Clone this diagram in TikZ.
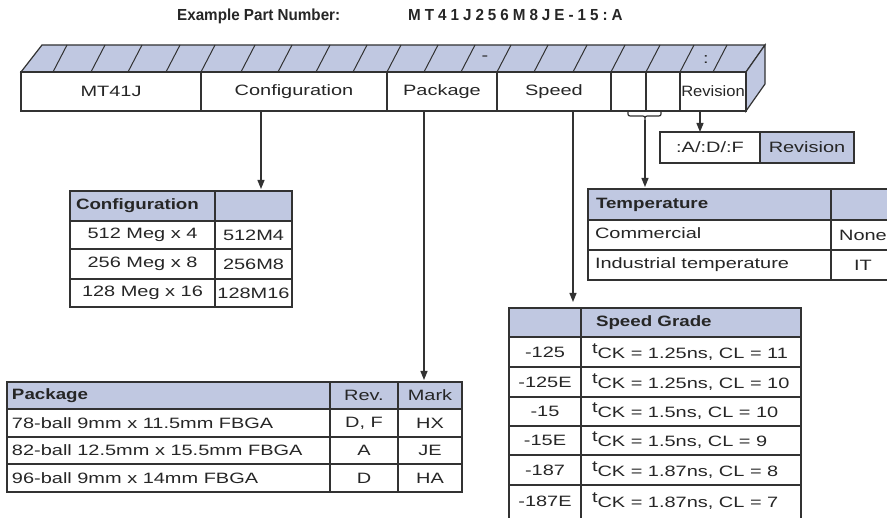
\documentclass[tikz,border=0pt]{standalone}
\usepackage{fontspec}
\setmainfont{Liberation Sans}[FakeStretch=1.33]
\newfontfamily\hb{Liberation Sans}[FakeStretch=1.25]
\newfontfamily\titlefont{Liberation Sans}[FakeStretch=0.95]
\usetikzlibrary{arrows.meta}
\definecolor{hdr}{RGB}{192,200,225}
\definecolor{ln}{RGB}{50,50,50}
\newcommand\fsz{\fontsize{15}{18}\selectfont}
\newcommand\Kp{\kern4pt}
\newcommand\tck{\raisebox{5pt}{t}CK}
\newcommand\mycell[7]{%
  \pgfmathsetmacro\cw{#4-#2}\pgfmathsetmacro\ch{#5-#3}%
  \pgfmathsetmacro\cx{(#2+#4)/2}\pgfmathsetmacro\cy{(#3+#5)/2}%
  \node[cellbox,#6,minimum width=\cw pt,minimum height=\ch pt] (#1) at (\cx,\cy) {#7};}
\tikzset{
  cellbox/.style={draw=ln, line width=1.2pt, fill=white, inner sep=0pt, outer sep=0pt, font=\fsz, text=black!85},
  txt/.style={inner sep=0pt, outer sep=0pt, font=\fsz, text=black!85},
  arr/.style={draw=ln, line width=1.2pt, -{Triangle[length=9pt,width=7pt]}, shorten >=2pt},
  slash/.style={draw=ln, line width=1pt},
}
\begin{document}
\begin{tikzpicture}[x=1pt,y=-1pt]
\useasboundingbox (0,0) rectangle (887,518);
\fill[white] (0,0) rectangle (887,518);
\clip (0,0) rectangle (887,518);

% title
\node[anchor=base west, inner sep=0pt, text=black!85] (title) at (177,21)
  {\titlefont\bfseries\fontsize{16}{18}\selectfont Example Part Number:\hspace{68pt}M\Kp T\Kp 4\Kp 1\Kp J\Kp 2\Kp 5\Kp 6\Kp M\Kp 8\Kp J\Kp E\Kp -\Kp 1\Kp 5\Kp :\Kp A};

% 3D part-number bar
\path[draw=ln, fill=hdr, line width=1.2pt] (21,72) -- (42,45) -- (765,45) -- (746,72) -- cycle;
\path[draw=ln, fill=hdr, line width=1.2pt] (746,72) -- (765,45) -- (765,84) -- (746,111) -- cycle;
\foreach \b in {53,91,128,166,201,241,278,316,353,387,424,461,497,534,573,611,646,680,713}
  \draw[slash] (\b,72) -- (\b+14,45);
\node[txt] (sepdash) at (485,58) {-};
\node[txt] (sepcolon) at (706,60) {:};

\mycell{fMT}{21}{72}{201}{111}{}{MT41J}
\mycell{fCfg}{201}{72}{387}{111}{}{Configuration}
\mycell{fPkg}{387}{72}{497}{111}{}{Package}
\mycell{fSpd}{497}{72}{611}{111}{}{Speed}
\mycell{fTa}{611}{72}{646}{111}{}{}
\mycell{fTb}{646}{72}{680}{111}{}{}
\mycell{fRev}{680}{72}{746}{111}{}{\scalebox{0.83}[1]{Revision}}

% brace under temperature cells
\draw[ln, line width=1.2pt] (628,112) .. controls (628,116) .. (633,116) -- (640,116)
  .. controls (645,116) .. (645,120) .. controls (645,116) .. (650,116) -- (656,116)
  .. controls (661,116) .. (661,112);
\coordinate (brtip) at (645,120);

% Revision box
\mycell{rva}{660}{132}{760}{163}{}{:A/:D/:F}
\mycell{rvb}{760}{132}{854}{163}{fill=hdr}{Revision}

% Configuration table
\mycell{cHa}{70}{191}{215}{221}{fill=hdr}{}
\mycell{cHb}{215}{191}{292}{221}{fill=hdr}{}
\node[txt, anchor=west] (cHt) at ([xshift=6pt]cHa.west) {\hb\bfseries Configuration};
\mycell{c11}{70}{221}{215}{249}{}{512 Meg x 4}
\mycell{c12}{215}{221}{292}{249}{}{512M4}
\mycell{c21}{70}{249}{215}{279}{}{256 Meg x 8}
\mycell{c22}{215}{249}{292}{279}{}{256M8}
\mycell{c31}{70}{279}{215}{307}{}{128 Meg x 16}
\mycell{c32}{215}{279}{292}{307}{}{128M16}

% Temperature table
\mycell{tHa}{588}{189}{831}{220}{fill=hdr}{}
\mycell{tHb}{831}{189}{895}{220}{fill=hdr}{}
\node[txt, anchor=west] (tHt) at ([xshift=8pt]tHa.west) {\hb\bfseries Temperature};
\mycell{t11}{588}{220}{831}{250}{}{}
\node[txt, anchor=west] (t11t) at ([xshift=7pt,yshift=2pt]t11.west) {Commercial};
\mycell{t12}{831}{220}{895}{250}{}{None}
\mycell{t21}{588}{250}{831}{280}{}{}
\node[txt, anchor=west] (t21t) at ([xshift=7pt]t21.west) {Industrial temperature};
\mycell{t22}{831}{250}{895}{280}{}{IT}

% Package table
\mycell{pHa}{7}{382}{330}{409}{fill=hdr}{}
\mycell{pHb}{330}{382}{398}{409}{fill=hdr}{Rev.}
\mycell{pHc}{398}{382}{462}{409}{fill=hdr}{Mark}
\node[txt, anchor=west] (pHt) at ([xshift=5pt]pHa.west) {\hb\bfseries Package};
\mycell{p11}{7}{409}{330}{437}{}{}
\node[txt, anchor=west] (p11t) at ([xshift=5pt]p11.west) {78-ball 9mm x 11.5mm FBGA};
\mycell{p12}{330}{409}{398}{437}{}{D, F}
\mycell{p13}{398}{409}{462}{437}{}{HX}
\mycell{p21}{7}{437}{330}{464}{}{}
\node[txt, anchor=west] (p21t) at ([xshift=5pt]p21.west) {82-ball 12.5mm x 15.5mm FBGA};
\mycell{p22}{330}{437}{398}{464}{}{A}
\mycell{p23}{398}{437}{462}{464}{}{JE}
\mycell{p31}{7}{464}{330}{492}{}{}
\node[txt, anchor=west] (p31t) at ([xshift=5pt]p31.west) {96-ball 9mm x 14mm FBGA};
\mycell{p32}{330}{464}{398}{492}{}{D}
\mycell{p33}{398}{464}{462}{492}{}{HA}

% Speed table
\mycell{sHa}{509}{308}{581}{337}{fill=hdr}{}
\mycell{sHb}{581}{308}{801}{337}{fill=hdr}{}
\node[txt, anchor=west] (sHt) at ([xshift=15pt]sHb.west) {\hb\bfseries Speed Grade};
\mycell{s11}{509}{337}{581}{367}{}{-125}
\mycell{s12}{581}{337}{801}{367}{}{}
\node[txt, anchor=west] (s12t) at ([xshift=11pt]s12.west) {\tck{} = 1.25ns, CL = 11};
\mycell{s21}{509}{367}{581}{397}{}{-125E}
\mycell{s22}{581}{367}{801}{397}{}{}
\node[txt, anchor=west] (s22t) at ([xshift=11pt]s22.west) {\tck{} = 1.25ns, CL = 10};
\mycell{s31}{509}{397}{581}{426}{}{-15}
\mycell{s32}{581}{397}{801}{426}{}{}
\node[txt, anchor=west] (s32t) at ([xshift=11pt]s32.west) {\tck{} = 1.5ns, CL = 10};
\mycell{s41}{509}{426}{581}{455}{}{-15E}
\mycell{s42}{581}{426}{801}{455}{}{}
\node[txt, anchor=west] (s42t) at ([xshift=11pt]s42.west) {\tck{} = 1.5ns, CL = 9};
\mycell{s51}{509}{455}{581}{485}{}{-187}
\mycell{s52}{581}{455}{801}{485}{}{}
\node[txt, anchor=west] (s52t) at ([xshift=11pt]s52.west) {\tck{} = 1.87ns, CL = 8};
\mycell{s61}{509}{485}{581}{530}{}{}
\mycell{s62}{581}{485}{801}{530}{}{}
\node[txt] (s61t) at (545,501) {-187E};
\node[txt, anchor=west] (s62t) at (592,501) {\tck{} = 1.87ns, CL = 7};

% connectors
\coordinate (xc) at (261,0);
\coordinate (xp) at (424,0);
\coordinate (xs) at (573,0);
\coordinate (xr) at (700,0);
\draw[arr] (xc |- fCfg.south) -- (xc |- cHa.north);
\draw[arr] (xp |- fPkg.south) -- (xp |- pHa.north);
\draw[arr, shorten >=6pt] (xs |- fSpd.south) -- (xs |- sHa.north);
\draw[arr, shorten >=0pt] (xr |- fRev.south) -- (xr |- rva.north);
\draw[arr] (brtip) -- (brtip |- tHa.north);
\end{tikzpicture}
\end{document}
